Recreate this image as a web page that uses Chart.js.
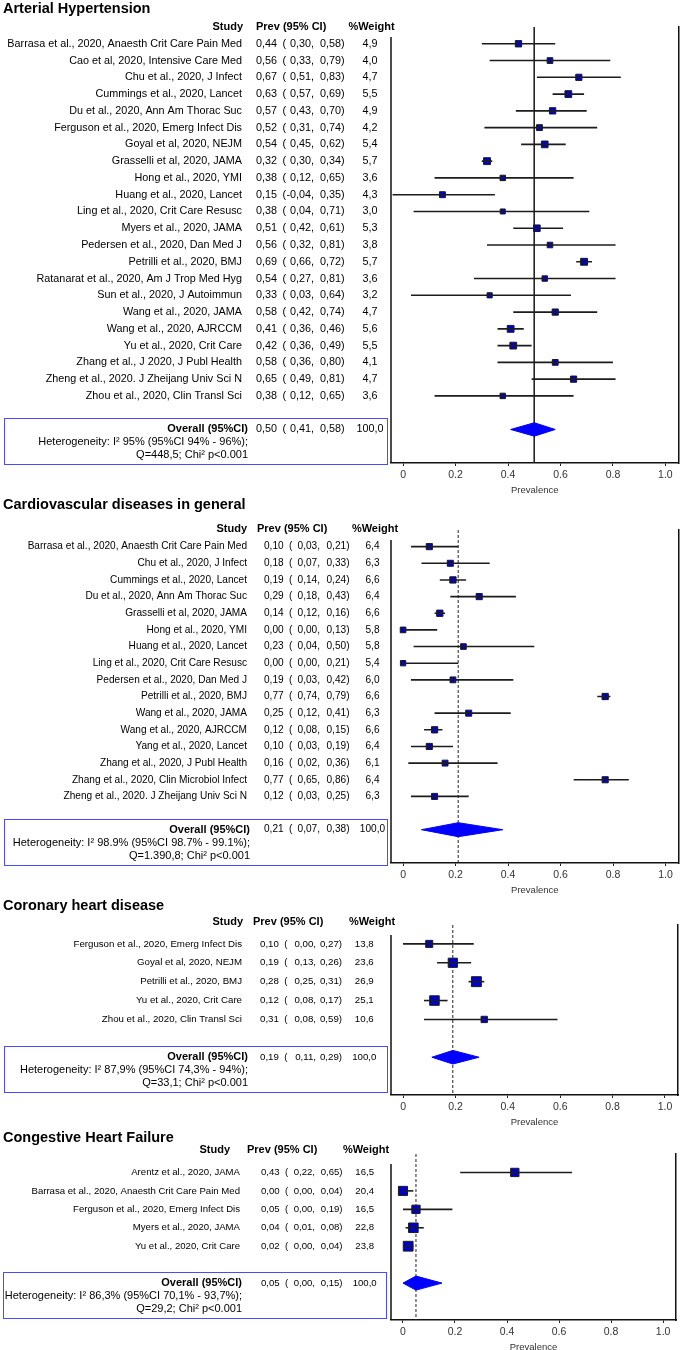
<!DOCTYPE html>
<html><head><meta charset="utf-8">
<script src="https://cdn.jsdelivr.net/npm/chart.js@4.4.1/dist/chart.umd.min.js"></script>
<style>
html,body{margin:0;padding:0;background:#fff;}
#page{position:relative;width:684px;height:1350px;overflow:hidden;background:#fff;}
canvas{position:absolute;left:0;}
</style></head><body><div id="page">
<canvas id="c1"></canvas><canvas id="c2"></canvas><canvas id="c3"></canvas><canvas id="c4"></canvas>
</div>
<script>
// ---------- DATA ----------
const ahTitle = 'Arterial Hypertension';
const ahStudies = ['Barrasa et al., 2020, Anaesth Crit Care Pain Med','Cao et al, 2020, Intensive Care Med','Chu et al., 2020, J Infect','Cummings et al., 2020, Lancet','Du et al., 2020, Ann Am Thorac Suc','Ferguson et al., 2020, Emerg Infect Dis','Goyal et al, 2020, NEJM','Grasselli et al, 2020, JAMA','Hong et al., 2020, YMI','Huang et al., 2020, Lancet','Ling et al., 2020, Crit Care Resusc','Myers et al., 2020, JAMA','Pedersen et al., 2020, Dan Med J','Petrilli et al., 2020, BMJ','Ratanarat et al., 2020, Am J Trop Med Hyg','Sun et al., 2020, J Autoimmun','Wang et al., 2020, JAMA','Wang et al., 2020, AJRCCM','Yu et al., 2020, Crit Care','Zhang et al., J 2020, J Publ Health','Zheng et al., 2020. J Zheijang Univ Sci N','Zhou et al., 2020, Clin Transl Sci'];
const ahPrev = [0.44,0.56,0.67,0.63,0.57,0.52,0.54,0.32,0.38,0.15,0.38,0.51,0.56,0.69,0.54,0.33,0.58,0.41,0.42,0.58,0.65,0.38];
const ahLo   = [0.30,0.33,0.51,0.57,0.43,0.31,0.45,0.30,0.12,-0.04,0.04,0.42,0.32,0.66,0.27,0.03,0.42,0.36,0.36,0.36,0.49,0.12];
const ahHi   = [0.58,0.79,0.83,0.69,0.70,0.74,0.62,0.34,0.65,0.35,0.71,0.61,0.81,0.72,0.81,0.64,0.74,0.46,0.49,0.80,0.81,0.65];
const ahWeight = [4.9,4.0,4.7,5.5,4.9,4.2,5.4,5.7,3.6,4.3,3.0,5.3,3.8,5.7,3.6,3.2,4.7,5.6,5.5,4.1,4.7,3.6];
const ahOverall = [0.50,0.41,0.58];
const ahHet = ['Heterogeneity: I\u00b2 95% (95%CI 94% - 96%);','Q=448,5; Chi\u00b2 p<0.001'];

const cvTitle = 'Cardiovascular diseases in general';
const cvStudies = ['Barrasa et al., 2020, Anaesth Crit Care Pain Med','Chu et al., 2020, J Infect','Cummings et al., 2020, Lancet','Du et al., 2020, Ann Am Thorac Suc','Grasselli et al, 2020, JAMA','Hong et al., 2020, YMI','Huang et al., 2020, Lancet','Ling et al., 2020, Crit Care Resusc','Pedersen et al., 2020, Dan Med J','Petrilli et al., 2020, BMJ','Wang et al., 2020, JAMA','Wang et al., 2020, AJRCCM','Yang et al., 2020, Lancet','Zhang et al., 2020, J Publ Health','Zhang et al., 2020, Clin Microbiol Infect','Zheng et al., 2020. J Zheijang Univ Sci N'];
const cvPrev = [0.10,0.18,0.19,0.29,0.14,0.00,0.23,0.00,0.19,0.77,0.25,0.12,0.10,0.16,0.77,0.12];
const cvLo   = [0.03,0.07,0.14,0.18,0.12,0.00,0.04,0.00,0.03,0.74,0.12,0.08,0.03,0.02,0.65,0.03];
const cvHi   = [0.21,0.33,0.24,0.43,0.16,0.13,0.50,0.21,0.42,0.79,0.41,0.15,0.19,0.36,0.86,0.25];
const cvWeight = [6.4,6.3,6.6,6.4,6.6,5.8,5.8,5.4,6.0,6.6,6.3,6.6,6.4,6.1,6.4,6.3];
const cvOverall = [0.21,0.07,0.38];
const cvHet = ['Heterogeneity: I\u00b2 98.9% (95%CI 98.7% - 99.1%);','Q=1.390,8; Chi\u00b2 p<0.001'];

const chdTitle = 'Coronary heart disease';
const chdStudies = ['Ferguson et al., 2020, Emerg Infect Dis','Goyal et al, 2020, NEJM','Petrilli et al., 2020, BMJ','Yu et al., 2020, Crit Care','Zhou et al., 2020, Clin Transl Sci'];
const chdPrev = [0.10,0.19,0.28,0.12,0.31];
const chdLo   = [0.00,0.13,0.25,0.08,0.08];
const chdHi   = [0.27,0.26,0.31,0.17,0.59];
const chdWeight = [13.8,23.6,26.9,25.1,10.6];
const chdOverall = [0.19,0.11,0.29];
const chdHet = ['Heterogeneity: I\u00b2 87,9% (95%CI 74,3% - 94%);','Q=33,1; Chi\u00b2 p<0.001'];

const chfTitle = 'Congestive Heart Failure';
const chfStudies = ['Arentz et al., 2020, JAMA','Barrasa et al., 2020, Anaesth Crit Care Pain Med','Ferguson et al., 2020, Emerg Infect Dis','Myers et al., 2020, JAMA','Yu et al., 2020, Crit Care'];
const chfPrev = [0.43,0.00,0.05,0.04,0.02];
const chfLo   = [0.22,0.00,0.00,0.01,0.00];
const chfHi   = [0.65,0.04,0.19,0.08,0.04];
const chfWeight = [16.5,20.4,16.5,22.8,23.8];
const chfOverall = [0.05,0.00,0.15];
const chfHet = ['Heterogeneity: I\u00b2 86,3% (95%CI 70,1% - 93,7%);','Q=29,2; Chi\u00b2 p<0.001'];

const tickValues = [0,0.2,0.4,0.6,0.8,1.0];
const tickLabels = ['0','0.2','0.4','0.6','0.8','1.0'];
const axisTitle = 'Prevalence';
const headers = ['Study','Prev (95% CI)','%Weight'];
const overallLabel = 'Overall (95%CI)';
const overallWeight = '100,0';

// ---------- STYLE / LAYOUT ----------
const FONT = '"Liberation Sans", Arial, Helvetica, sans-serif';
const NARROW = '"Liberation Sans Narrow", "Liberation Sans", Arial, sans-serif';
Chart.defaults.font.family = FONT;
const AXIS_H = 32.5;
const PAD_BOTTOM = 3;

const layouts = [
 {canvasTop:0,   areaTop:27,  areaBottom:463,   fs:10.8, titleDy:-18.5, headerDy:0,  nameR:242, prevL:256, parenL:282.5, loR:314, hiR:344.5, wC:370,   studyR:243, prevHL:256, weightHC:371.5, overallR:248, boxL:4, boxR:387, dash:[],    sA:2.9, sB:0.7,  dh:0.40},
 {canvasTop:494, areaTop:530, areaBottom:863,   fs:10.1, titleDy:-25,   headerDy:-1, nameR:247, prevL:264, parenL:289,   loR:320, hiR:349.5, wC:372.5, studyR:247, prevHL:257, weightHC:375,   overallR:250, boxL:4, boxR:387, dash:[3,2], sA:1.0, sB:0.8,  dh:0.42},
 {canvasTop:890, areaTop:925, areaBottom:1095,  fs:9.7,  titleDy:-19,   headerDy:-3, nameR:242, prevL:260, parenL:284.3, loR:316, hiR:342,   wC:364.3, studyR:243, prevHL:253, weightHC:372,   overallR:248, boxL:4, boxR:387, dash:[3,2], sA:4.0, sB:0.22, dh:0.36},
 {canvasTop:1120,areaTop:1154,areaBottom:1320.7,fs:9.6,  titleDy:-16,   headerDy:-4, nameR:240, prevL:261, parenL:285,   loR:315, hiR:342.5, wC:364.7, studyR:230, prevHL:247, weightHC:366,   overallR:242, boxL:3, boxR:386, dash:[3,2], sA:5.0, sB:0.2,  dh:0.38}
];

const panels = [
 {title:ahTitle, studies:ahStudies, prev:ahPrev, lo:ahLo, hi:ahHi, weight:ahWeight, overall:ahOverall, het:ahHet},
 {title:cvTitle, studies:cvStudies, prev:cvPrev, lo:cvLo, hi:cvHi, weight:cvWeight, overall:cvOverall, het:cvHet},
 {title:chdTitle, studies:chdStudies, prev:chdPrev, lo:chdLo, hi:chdHi, weight:chdWeight, overall:chdOverall, het:chdHet},
 {title:chfTitle, studies:chfStudies, prev:chfPrev, lo:chfLo, hi:chfHi, weight:chfWeight, overall:chfOverall, het:chfHet}
];

const fmt2 = v => v.toFixed(2).replace('.', ',');
const fmt1 = v => v.toFixed(1).replace('.', ',');

function makePanel(k) {
  const d = panels[k], L = layouts[k];
  const n = d.studies.length;
  const padTop = L.areaTop - L.canvasTop;
  const H = Math.round(padTop + (L.areaBottom - L.areaTop) + AXIS_H + PAD_BOTTOM);
  const cv = document.getElementById('c' + (k + 1));
  cv.width = 684; cv.height = H;
  cv.style.width = '684px'; cv.style.height = H + 'px'; cv.style.top = L.canvasTop + 'px';

  const datasets = [];
  d.studies.forEach((s, i) => {
    datasets.push({type:'line', data:[{x:d.lo[i], y:i}, {x:d.hi[i], y:i}], borderColor:'#1c1c1c', borderWidth:1.6,
      pointRadius:0, fill:false, tension:0, order:0});
  });
  datasets.push({type:'line', data:d.prev.map((p, i) => ({x:p, y:i})), showLine:false, pointStyle:'rect',
    pointRadius:d.weight.map(w => (L.sA + L.sB * w) / Math.SQRT2), pointBackgroundColor:'#0000cc',
    pointBorderColor:'#1a1a1a', pointBorderWidth:1, order:1});
  const o = d.overall, r = n + 1;
  datasets.push({type:'line', data:[{x:o[1], y:r}, {x:o[0], y:r - L.dh}, {x:o[2], y:r}, {x:o[0], y:r + L.dh}, {x:o[1], y:r}],
    borderColor:'#0000ff', borderWidth:1, backgroundColor:'#0000ff', fill:'shape', pointRadius:0, tension:0, order:2});
  datasets.push({type:'line', data:[{x:o[0], y:-1}, {x:o[0], y:n + 3}], borderColor:'#222', borderWidth:1,
    borderDash:L.dash, pointRadius:0, fill:false, order:3});

  const tablePlugin = {
    id:'table' + k,
    afterDraw(chart) {
      const {ctx, chartArea, scales} = chart;
      const y = v => scales.y.getPixelForValue(v);
      ctx.save();
      ctx.fillStyle = '#000';
      ctx.textBaseline = 'middle';
      // left axis line
      ctx.strokeStyle = '#111'; ctx.lineWidth = 1.5;
      ctx.beginPath(); ctx.moveTo(chartArea.left, chartArea.top + 10); ctx.lineTo(chartArea.left, chartArea.bottom); ctx.stroke();
      // title
      ctx.font = 'bold 14.5px ' + FONT; ctx.textAlign = 'left';
      ctx.fillText(d.title, 3, chartArea.top + L.titleDy);
      // header
      const hy = chartArea.top + L.headerDy;
      ctx.font = 'bold 11px ' + FONT;
      ctx.textAlign = 'right'; ctx.fillText(headers[0], L.studyR, hy);
      ctx.textAlign = 'left'; ctx.fillText(headers[1], L.prevHL, hy);
      ctx.textAlign = 'center'; ctx.fillText(headers[2], L.weightHC, hy);
      const vals = (yy, p, lo, hi, wt) => {
        ctx.textAlign = 'left'; ctx.fillText(fmt2(p), L.prevL, yy);
        ctx.fillText('(', L.parenL, yy);
        ctx.textAlign = 'right'; ctx.fillText(fmt2(lo) + ',', L.loR, yy);
        ctx.fillText(fmt2(hi) + ')', L.hiR, yy);
        ctx.textAlign = 'center'; ctx.fillText(wt, L.wC, yy);
      };
      ctx.font = L.fs + 'px ' + FONT;
      d.studies.forEach((s, i) => {
        const yy = y(i);
        ctx.textAlign = 'right'; ctx.fillText(s, L.nameR, yy);
        vals(yy, d.prev[i], d.lo[i], d.hi[i], fmt1(d.weight[i]));
      });
      // overall
      const oy = y(r);
      ctx.strokeStyle = '#4a4aff'; ctx.lineWidth = 1;
      ctx.strokeRect(L.boxL + 0.5, Math.round(oy - 11) + 0.5, L.boxR - L.boxL, 46);
      vals(oy, o[0], o[1], o[2], overallWeight);
      ctx.font = 'bold 11px ' + FONT; ctx.textAlign = 'right';
      ctx.fillText(overallLabel, L.overallR, oy);
      ctx.font = '11px ' + FONT;
      ctx.fillText(d.het[0], L.overallR, oy + 13);
      ctx.fillText(d.het[1], L.overallR, oy + 26);
      ctx.restore();
    }
  };

  return new Chart(cv, {
    type:'line',
    data:{datasets},
    options:{
      responsive:false, animation:false, events:[], devicePixelRatio:1,
      layout:{padding:{left:391, right:2.5, top:padTop, bottom:PAD_BOTTOM}},
      plugins:{legend:{display:false}, tooltip:{enabled:false}},
      scales:{
        x:{type:'linear', position:'bottom', min:-0.046, max:1.05,
          grid:{display:true, drawOnChartArea:false, drawTicks:true, tickLength:3, color:'#222'},
          border:{display:true, color:'#111', width:1.5},
          afterBuildTicks:s => { s.ticks = tickValues.map(v => ({value:v})); },
          ticks:{autoSkip:false, maxRotation:0, padding:3, color:'#333', font:{family:NARROW, size:10.5},
            callback:(v, i) => tickLabels[i]},
          title:{display:true, text:axisTitle, color:'#333', padding:0, font:{family:NARROW, size:9.5}}},
        y:{type:'linear', reverse:true, min:-1, max:n + 3, display:false},
        y2:{type:'linear', position:'right', min:0, max:1, display:true,
          grid:{display:true, drawOnChartArea:false, drawTicks:false},
          border:{display:true, color:'#111', width:1.5}, ticks:{display:false}}
      }
    },
    plugins:[tablePlugin]
  });
}
[0,1,2,3].forEach(makePanel);
</script>
</body></html>
